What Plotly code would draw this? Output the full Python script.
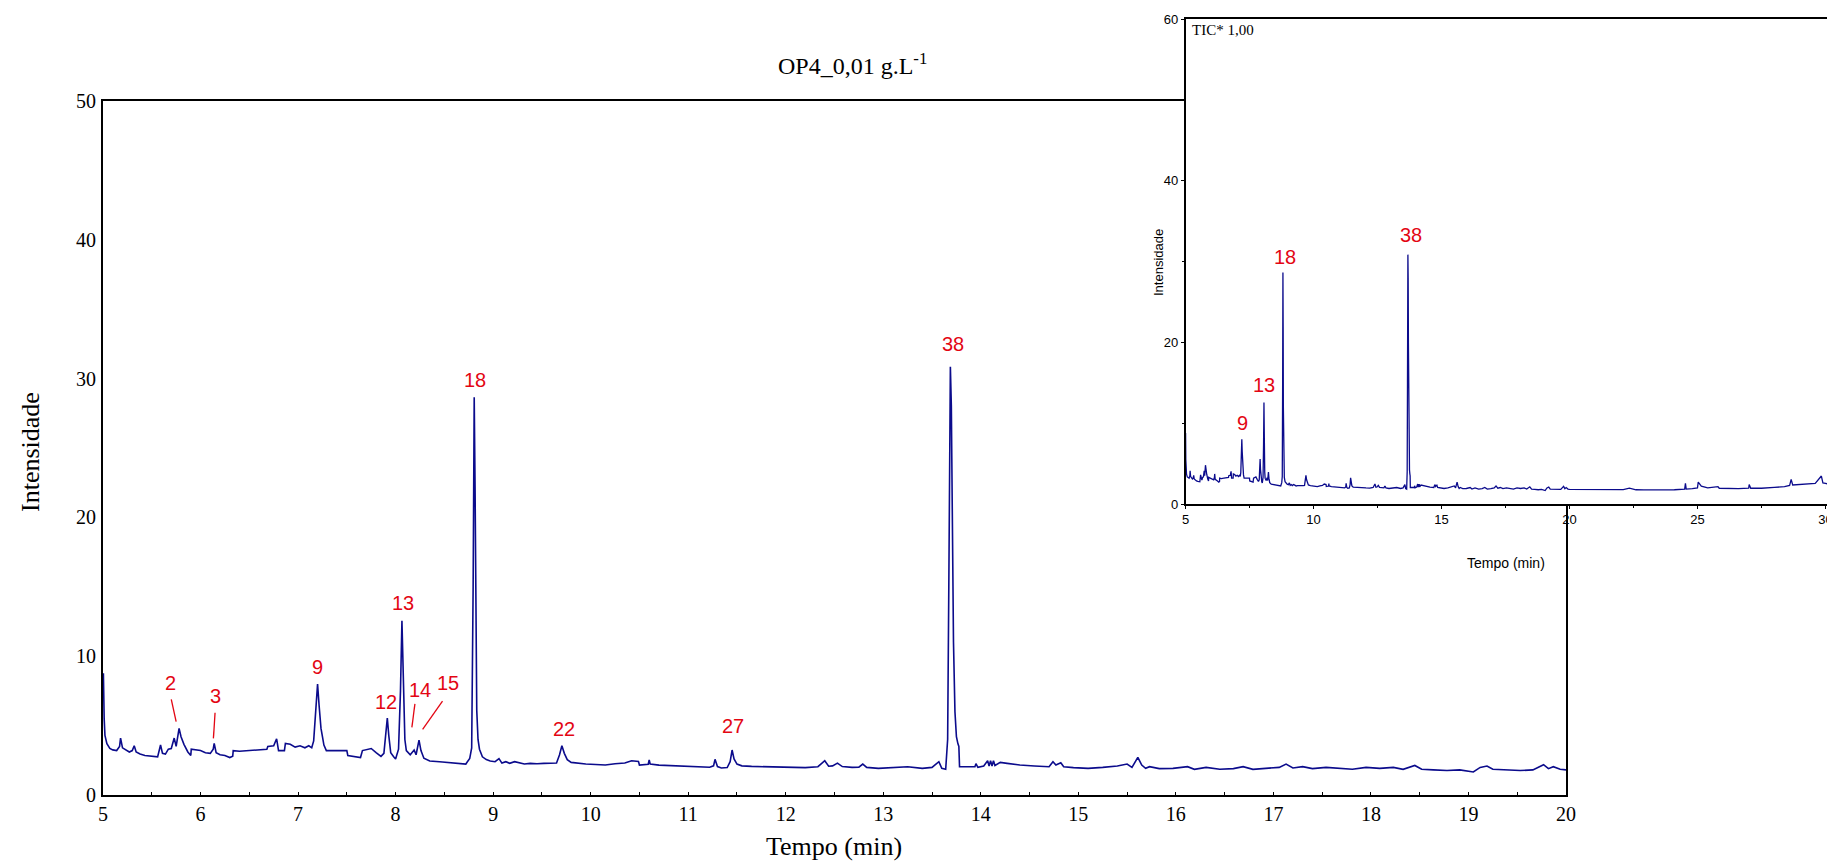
import plotly.graph_objects as go

# ---------------- data ----------------
# main chromatogram, 5-20 min
t_main = [5.000, 5.004, 5.012, 5.02, 5.04, 5.07, 5.10, 5.14, 5.17, 5.18, 5.20, 5.23, 5.27, 5.30, 5.32,
          5.34, 5.38, 5.43, 5.48, 5.52, 5.56, 5.59, 5.61, 5.64, 5.67, 5.70, 5.73, 5.75, 5.78, 5.80,
          5.83, 5.87, 5.90, 5.905, 5.95, 6.00, 6.05, 6.10, 6.13, 6.14, 6.16, 6.20, 6.25, 6.30, 6.33,
          6.335, 6.40, 6.50, 6.60, 6.68, 6.69, 6.75, 6.78, 6.80, 6.86, 6.87, 6.92, 6.97, 7.02, 7.07,
          7.11, 7.14, 7.16, 7.185, 7.20, 7.215, 7.235, 7.25, 7.265, 7.29, 7.35, 7.42, 7.50, 7.51, 7.57,
          7.64, 7.66, 7.70, 7.75, 7.80, 7.85, 7.88, 7.905, 7.915, 7.93, 7.95, 7.98, 8.00, 8.03, 8.05,
          8.065, 8.08, 8.095, 8.11, 8.15, 8.19, 8.21, 8.24, 8.26, 8.29, 8.35, 8.45, 8.58, 8.72, 8.76,
          8.78, 8.795, 8.806, 8.815, 8.823, 8.832, 8.845, 8.86, 8.89, 8.93, 8.97, 9.02, 9.06, 9.09, 9.13,
          9.17, 9.22, 9.27, 9.32, 9.38, 9.45, 9.52, 9.60, 9.65, 9.68, 9.705, 9.73, 9.76, 9.80, 9.88,
          9.95, 10.05, 10.15, 10.25, 10.35, 10.42, 10.49, 10.50, 10.59, 10.60, 10.61, 10.70, 10.85, 10.95, 11.05,
          11.15, 11.22, 11.26, 11.275, 11.30, 11.34, 11.40, 11.43, 11.45, 11.47, 11.50, 11.55, 11.65, 11.75, 11.85,
          11.95, 12.05, 12.20, 12.33, 12.40, 12.44, 12.48, 12.53, 12.58, 12.68, 12.75, 12.79, 12.83, 12.95, 13.10,
          13.25, 13.40, 13.50, 13.57, 13.60, 13.64, 13.66, 13.672, 13.68, 13.688, 13.698, 13.708, 13.72, 13.735, 13.75,
          13.765, 13.775, 13.782, 13.82, 13.88, 13.94, 13.95, 13.97, 14.03, 14.07, 14.085, 14.10, 14.115, 14.13, 14.145,
          14.20, 14.27, 14.40, 14.55, 14.70, 14.74, 14.77, 14.82, 14.85, 14.95, 15.10, 15.25, 15.40, 15.50, 15.55,
          15.61, 15.65, 15.69, 15.73, 15.83, 15.97, 16.12, 16.19, 16.31, 16.45, 16.59, 16.69, 16.79, 16.93, 17.06,
          17.13, 17.20, 17.30, 17.40, 17.54, 17.68, 17.81, 17.95, 18.09, 18.23, 18.33, 18.45, 18.52, 18.64, 18.78,
          18.91, 19.05, 19.12, 19.19, 19.25, 19.39, 19.53, 19.66, 19.77, 19.82, 19.87, 19.94, 20.00]
i_main = [8.6, 8.77, 5.5, 4.3, 3.7, 3.35, 3.25, 3.2, 3.5, 4.1, 3.4, 3.25, 3.1, 3.2, 3.55,
          3.1, 2.95, 2.85, 2.8, 2.78, 2.75, 3.6, 3.0, 2.95, 3.3, 3.35, 4.1, 3.5, 4.8, 4.2,
          3.65, 3.1, 2.85, 3.3, 3.25, 3.2, 3.05, 3.0, 3.3, 3.72, 3.05, 2.9, 2.85, 2.7, 2.8,
          3.2, 3.15, 3.2, 3.25, 3.3, 3.5, 3.55, 4.05, 3.2, 3.2, 3.72, 3.65, 3.45, 3.55, 3.4,
          3.55, 3.4, 3.9, 6.5, 8.0, 6.5, 4.8, 4.2, 3.6, 3.2, 3.2, 3.2, 3.2, 2.85, 2.8,
          2.7, 3.2, 3.25, 3.35, 3.05, 2.78, 3.0, 4.5, 5.55, 4.3, 3.05, 2.75, 2.6, 3.3, 7.5,
          12.55, 8.0, 4.0, 3.2, 2.9, 3.24, 2.9, 3.96, 3.2, 2.65, 2.45, 2.40, 2.33, 2.23, 2.64,
          3.4, 15.0, 28.65, 22.0, 12.0, 6.1, 4.0, 3.3, 2.75, 2.55, 2.45, 2.40, 2.62, 2.30, 2.40,
          2.28, 2.40, 2.33, 2.23, 2.28, 2.25, 2.28, 2.28, 2.30, 2.88, 3.55, 3.0, 2.55, 2.35, 2.28,
          2.23, 2.20, 2.16, 2.25, 2.30, 2.47, 2.42, 2.16, 2.22, 2.52, 2.23, 2.15, 2.10, 2.08, 2.04,
          2.02, 2.00, 2.10, 2.57, 2.05, 1.95, 1.98, 2.4, 3.24, 2.6, 2.23, 2.10, 2.06, 2.04, 2.06,
          2.0, 1.99, 1.97, 2.04, 2.47, 2.07, 2.10, 2.30, 2.05, 1.99, 2.0, 2.23, 1.99, 1.92, 1.97,
          2.04, 1.92, 1.99, 2.40, 1.92, 1.85, 4.0, 15.0, 26.0, 30.85, 28.0, 20.0, 11.0, 6.0, 4.2,
          3.7, 3.5, 2.04, 2.04, 1.99, 2.04, 2.26, 1.99, 2.09, 2.47, 2.09, 2.47, 2.09, 2.47, 2.13,
          2.35, 2.28, 2.16, 2.09, 2.04, 2.40, 2.16, 2.33, 2.04, 1.97, 1.92, 1.99, 2.09, 2.23, 1.99,
          2.71, 2.16, 1.92, 2.04, 1.90, 1.92, 2.04, 1.85, 1.99, 1.85, 1.90, 2.04, 1.85, 1.90, 1.99,
          2.23, 1.95, 2.04, 1.90, 1.99, 1.90, 1.85, 1.99, 1.92, 1.99, 1.85, 2.13, 1.85, 1.81, 1.76,
          1.81, 1.66, 1.99, 2.09, 1.85, 1.81, 1.76, 1.81, 2.18, 1.90, 2.04, 1.85, 1.81]

# continuation 20-30 min (visible only in the inset)
t_ext = [20.3, 20.6, 20.9, 21.2, 21.5, 21.8, 22.1, 22.34, 22.6, 22.9, 23.2, 23.5, 23.8, 24.1, 24.4,
         24.50, 24.53, 24.56, 24.8, 25.0, 25.03, 25.15, 25.4, 25.8, 25.85, 26.2, 26.6, 27.0, 27.02, 27.08,
         27.5, 28.0, 28.4, 28.6, 28.66, 28.72, 29.0, 29.3, 29.6, 29.84, 29.9, 30.0, 30.06]
i_ext = [1.80, 1.85, 1.78, 1.82, 1.76, 1.80, 1.78, 1.95, 1.76, 1.74, 1.72, 1.76, 1.74, 1.76, 1.80,
         1.85, 2.56, 1.85, 1.90, 2.0, 2.7, 2.2, 2.0, 2.15, 1.95, 1.92, 1.90, 1.95, 2.4, 1.95,
         1.95, 2.05, 2.15, 2.3, 3.05, 2.35, 2.4, 2.5, 2.55, 3.46, 2.6, 2.55, 2.5]

# peak labels on the main chart
lab_text = ["2", "3", "9", "12", "13", "14", "15", "18", "22", "27", "38"]
lab_t = [5.687, 6.156, 7.199, 7.90, 8.08, 8.252, 8.535, 8.81, 9.73, 11.456, 13.71]
lab_i = [8.05, 7.13, 9.20, 6.70, 13.8, 7.56, 8.07, 29.9, 4.73, 4.97, 32.5]

# leader lines (label -> peak)
lead_t0 = [5.70, 6.149, 8.198, 8.481]
lead_i0 = [6.89, 5.93, 6.56, 6.77]
lead_t1 = [5.75, 6.132, 8.167, 8.277]
lead_i1 = [5.28, 4.08, 4.87, 4.73]

# peak labels on the inset
ins_text = ["9", "13", "18", "38"]
ins_t = [7.24, 8.08, 8.875, 13.82]
ins_i = [10.06, 14.73, 30.6, 33.3]

main_xticks = list(range(5, 21))
main_yticks = [0, 10, 20, 30, 40, 50]
ins_xticks = [5, 10, 15, 20, 25, 30]
ins_yticks = [0, 20, 40, 60]

# ---------------- figure ----------------
W, H = 1827, 865
LINE = "#0b0b8c"
RED = "#e30613"
SERIF = "Liberation Serif, Times New Roman, serif"
SANS = "Liberation Sans, Arial, sans-serif"

fig = go.Figure()
fig.add_trace(go.Scatter(x=t_main, y=i_main, mode="lines",
                         line=dict(color=LINE, width=1.6), xaxis="x", yaxis="y",
                         hoverinfo="skip"))
fig.add_trace(go.Scatter(x=t_main + t_ext, y=i_main + i_ext, mode="lines",
                         line=dict(color=LINE, width=1.3), xaxis="x2", yaxis="y2",
                         hoverinfo="skip"))

def px_x(p):
    return p / W

def px_y(p):
    return 1 - p / H

annotations = []
for s, t, v in zip(lab_text, lab_t, lab_i):
    annotations.append(dict(x=t, y=v, xref="x", yref="y", text=s, showarrow=False,
                            font=dict(family=SANS, size=20, color=RED),
                            xanchor="center", yanchor="middle"))
for s, t, v in zip(ins_text, ins_t, ins_i):
    annotations.append(dict(x=t, y=v, xref="x2", yref="y2", text=s, showarrow=False,
                            font=dict(family=SANS, size=20, color=RED),
                            xanchor="center", yanchor="middle"))

annotations += [
    dict(x=px_x(852), y=px_y(64), xref="paper", yref="paper",
         text="OP4_0,01 g.L<sup>-1</sup>", showarrow=False,
         font=dict(family=SERIF, size=24, color="black"), xanchor="center", yanchor="middle"),
    dict(x=px_x(31), y=px_y(452), xref="paper", yref="paper", text="Intensidade",
         showarrow=False, textangle=-90,
         font=dict(family=SERIF, size=26, color="black"), xanchor="center", yanchor="middle"),
    dict(x=px_x(834), y=px_y(846), xref="paper", yref="paper", text="Tempo (min)",
         showarrow=False, font=dict(family=SERIF, size=26, color="black"),
         xanchor="center", yanchor="middle"),
    dict(x=px_x(1158), y=px_y(263), xref="paper", yref="paper", text="Intensidade",
         showarrow=False, textangle=-90,
         font=dict(family=SANS, size=13, color="black"), xanchor="center", yanchor="middle"),
    dict(x=px_x(1506), y=px_y(563), xref="paper", yref="paper", text="Tempo (min)",
         showarrow=False, font=dict(family=SANS, size=14, color="black"),
         xanchor="center", yanchor="middle"),
    dict(x=px_x(1190), y=px_y(30), xref="paper", yref="paper", text="TIC* 1,00",
         showarrow=False, font=dict(family=SERIF, size=15, color="black"),
         xanchor="left", yanchor="middle"),
]

shapes = []
for a, b, c, d in zip(lead_t0, lead_i0, lead_t1, lead_i1):
    shapes.append(dict(type="line", xref="x", yref="y", x0=a, y0=b, x1=c, y1=d,
                       line=dict(color=RED, width=1.3), layer="above"))

fig.update_layout(
    width=W, height=H, autosize=False,
    margin=dict(l=0, r=0, t=0, b=0, pad=0, autoexpand=False),
    paper_bgcolor="white", plot_bgcolor="white",
    showlegend=False,
    annotations=annotations, shapes=shapes,
    xaxis=dict(domain=[px_x(103), px_x(1566)], range=[5, 20], anchor="y", automargin=False,
               tickvals=main_xticks, ticktext=[str(v) for v in main_xticks],
               showgrid=False, zeroline=False, showline=True, mirror=True,
               linecolor="black", linewidth=2.2, ticks="inside", ticklen=3,
               tickcolor="black", tickwidth=1, ticklabeloverflow="allow",
               minor=dict(dtick=0.5, ticks="inside", ticklen=3, tickcolor="black", showgrid=False),
               tickfont=dict(family=SERIF, size=20, color="black")),
    yaxis=dict(domain=[px_y(795), px_y(101)], range=[0, 50], anchor="x", automargin=False,
               tickvals=main_yticks, ticktext=[str(v) for v in main_yticks],
               showgrid=False, zeroline=False, showline=True, mirror=True,
               linecolor="black", linewidth=2.2, ticks="", ticklabelstandoff=1,
               ticklabeloverflow="allow",
               tickfont=dict(family=SERIF, size=20, color="black")),
    xaxis2=dict(domain=[px_x(1185.5), 1.0], range=[5, 30.06], anchor="y2", automargin=False,
                tickvals=ins_xticks, ticktext=[str(v) for v in ins_xticks],
                showgrid=False, zeroline=False, showline=True, mirror=True,
                linecolor="black", linewidth=1.5, ticks="outside", ticklen=3,
                tickcolor="black", tickwidth=1, ticklabeloverflow="allow",
                minor=dict(dtick=2.5, ticks="outside", ticklen=2, tickcolor="black", showgrid=False),
                tickfont=dict(family=SANS, size=13, color="black")),
    yaxis2=dict(domain=[px_y(504), px_y(19)], range=[0, 60], anchor="x2", automargin=False,
                tickvals=ins_yticks, ticktext=[str(v) for v in ins_yticks],
                showgrid=False, zeroline=False, showline=True, mirror=False,
                linecolor="black", linewidth=1.5, ticks="outside", ticklen=3,
                tickcolor="black", tickwidth=1, ticklabeloverflow="allow",
                minor=dict(dtick=10, ticks="outside", ticklen=2, tickcolor="black", showgrid=False),
                tickfont=dict(family=SANS, size=13, color="black")),
)

# remove the browser's default page margin so the figure fills the window exactly
fig.write_html("out.html", config={"displayModeBar": False},
               post_script="document.body.style.margin='0';document.body.style.overflow='hidden';")
